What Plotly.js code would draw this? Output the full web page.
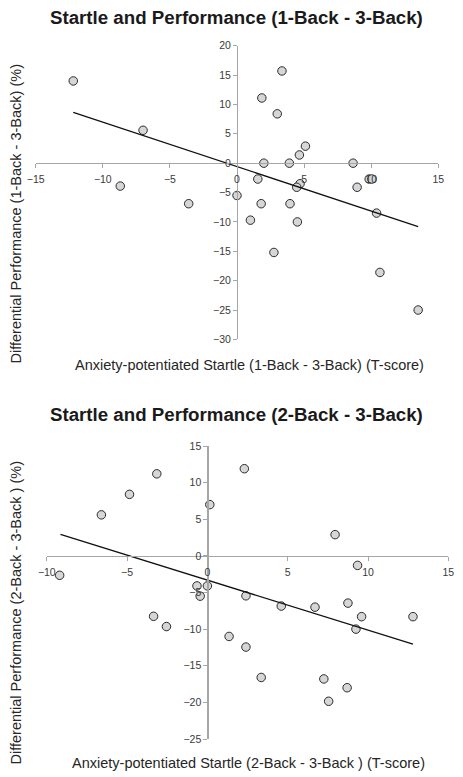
<!DOCTYPE html>
<html>
<head>
<meta charset="utf-8">
<script src="https://cdn.plot.ly/plotly-3.0.1.min.js"></script>
<style>html,body{margin:0;padding:0;background:#fff;}#chart{width:463px;height:777px;}</style>
</head>
<body>
<div id="chart"></div>
<script>
// ---- Data ----
const topX = [-12.2, -7.0, -8.7, -3.6, 0.0, 3.35, 1.85, 3.0, 5.1, 4.65, 2.0, 3.9, 8.65, 1.55, 9.85, 10.05, 4.7, 4.45, 8.95, 1.8, 3.95, 10.4, 1.0, 4.5, 2.75, 10.65, 13.5];
const topY = [14.0, 5.6, -3.9, -6.9, -5.5, 15.7, 11.1, 8.4, 2.9, 1.4, 0.0, 0.0, 0.0, -2.7, -2.7, -2.7, -3.5, -4.1, -4.1, -6.9, -6.9, -8.5, -9.7, -10.0, -15.2, -18.6, -25.0];
const topTrendX = [-12.2, 13.5];
const topTrendY = [8.65, -10.8];

const botX = [-9.2, -6.6, -4.85, -3.15, 0.15, -0.65, 0.0, -0.45, -3.35, -2.55, 1.35, 2.3, 7.95, 9.35, 2.4, 4.6, 6.7, 8.75, 9.6, 12.8, 9.25, 2.4, 3.35, 7.25, 8.7, 7.55];
const botY = [-2.65, 5.6, 8.4, 11.2, 7.0, -4.1, -4.1, -5.5, -8.25, -9.65, -11.0, 11.9, 2.9, -1.3, -5.45, -6.85, -7.0, -6.45, -8.3, -8.3, -10.0, -12.45, -16.6, -16.8, -18.0, -19.85];
const botTrendX = [-9.15, 12.8];
const botTrendY = [2.95, -12.05];

const topTitle = "Startle and Performance (1-Back - 3-Back)";
const botTitle = "Startle and Performance (2-Back - 3-Back)";
const topXTitle = "Anxiety-potentiated Startle (1-Back - 3-Back) (T-score)";
const topYTitle = "Differential Performance (1-Back - 3-Back) (%)";
const botXTitle = "Anxiety-potentiated Startle (2-Back - 3-Back ) (T-score)";
const botYTitle = "Differential Performance (2-Back - 3-Back ) (%)";

const topXRange = [-15, 15], topYRange = [-30, 20];
const botXRange = [-10, 15], botYRange = [-25, 15];

// ---- Layout geometry ----
const W = 463, H = 777;
const topXDom = [35.7 / W, 438.3 / W];
const topYDom = [1 - 339.4 / H, 1 - 45.7 / H];
const botXDom = [46.8 / W, 448.3 / W];
const botYDom = [1 - 739 / H, 1 - 446 / H];

function zeroPos(range, dom) {
  return dom[0] + (0 - range[0]) / (range[1] - range[0]) * (dom[1] - dom[0]);
}

const tickFont = {family: "Liberation Sans, Arial, sans-serif", size: 10.5, color: "#3a3a3a"};
const axisCommon = {
  showgrid: false, zeroline: false, showline: true,
  linecolor: "#a6a6a6", linewidth: 1.3,
  ticks: "outside", ticklen: 4, tickcolor: "#a6a6a6", tickwidth: 1,
  dtick: 5, tickfont: tickFont, fixedrange: true
};

const marker = {size: 8.5, color: "#d6d6d6", line: {color: "#2b2b2b", width: 1}};

const traces = [
  {x: topX, y: topY, type: "scatter", mode: "markers", marker: marker, xaxis: "x", yaxis: "y", hoverinfo: "x+y"},
  {x: topTrendX, y: topTrendY, type: "scatter", mode: "lines", line: {color: "#111", width: 1.3}, xaxis: "x", yaxis: "y"},
  {x: botX, y: botY, type: "scatter", mode: "markers", marker: marker, xaxis: "x2", yaxis: "y2", hoverinfo: "x+y"},
  {x: botTrendX, y: botTrendY, type: "scatter", mode: "lines", line: {color: "#111", width: 1.3}, xaxis: "x2", yaxis: "y2"}
];

const titleFont = {family: "Liberation Sans, Arial, sans-serif", size: 18.7, color: "#1a1a1a"};
const axTitleFont = {family: "Liberation Sans, Arial, sans-serif", size: 14.5, color: "#262626"};

function ann(text, px, py, font, angle) {
  return {text: text, x: px / W, y: 1 - py / H, xref: "paper", yref: "paper",
    xanchor: "center", yanchor: "middle", showarrow: false, font: font, textangle: angle || 0};
}

const layout = {
  width: W, height: H,
  margin: {l: 0, r: 0, t: 0, b: 0},
  paper_bgcolor: "#fff", plot_bgcolor: "rgba(0,0,0,0)",
  showlegend: false,
  xaxis: Object.assign({}, axisCommon, {domain: topXDom, range: topXRange, anchor: "free",
    position: zeroPos(topYRange, topYDom), ticklabelstandoff: 2}),
  yaxis: Object.assign({}, axisCommon, {domain: topYDom, range: topYRange, anchor: "free",
    position: zeroPos(topXRange, topXDom)}),
  xaxis2: Object.assign({}, axisCommon, {domain: botXDom, range: botXRange, anchor: "free",
    position: zeroPos(botYRange, botYDom), ticklabelstandoff: 2}),
  yaxis2: Object.assign({}, axisCommon, {domain: botYDom, range: botYRange, anchor: "free",
    position: zeroPos(botXRange, botXDom)}),
  annotations: [
    ann("<b>" + topTitle + "</b>", 236.5, 18, titleFont),
    ann("<b>" + botTitle + "</b>", 236.5, 414, titleFont),
    ann(topXTitle, 249.5, 365, axTitleFont),
    ann(topYTitle, 15, 213.5, axTitleFont, -90),
    ann(botXTitle, 249, 763, axTitleFont),
    ann(botYTitle, 15, 612.5, axTitleFont, -90)
  ]
};

Plotly.newPlot("chart", traces, layout, {displayModeBar: false, staticPlot: true});
</script>
</body>
</html>
